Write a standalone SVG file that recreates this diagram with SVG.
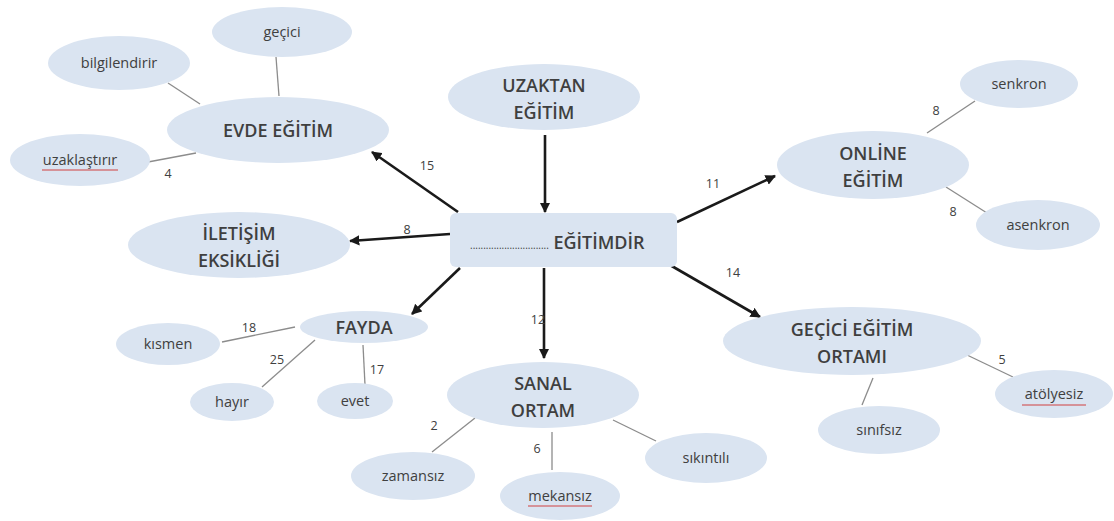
<svg xmlns="http://www.w3.org/2000/svg" width="1114" height="521" viewBox="0 0 1114 521">
<style>
.n{fill:#dae4f1;stroke:none}
.t{font-family:"Open Sans","Liberation Sans",sans-serif;font-size:18px;fill:#3f3f3f;text-anchor:middle;font-weight:600}
.s{font-family:"Open Sans","Liberation Sans",sans-serif;font-size:14.5px;fill:#404040;text-anchor:middle}
.num{font-family:"Open Sans","Liberation Sans",sans-serif;font-size:12.5px;fill:#404040;text-anchor:middle}
.a{stroke:#1a1a1a;stroke-width:2.6;fill:none;marker-end:url(#ah)}
.l{stroke:#8c8c8c;stroke-width:1.3;fill:none}
.u{stroke:#d04040;stroke-width:1;fill:none}
</style>
<defs>
<marker id="ah" viewBox="0 0 10 10" refX="9" refY="5" markerWidth="4" markerHeight="4" orient="auto" markerUnits="strokeWidth">
<path d="M0,0 L10,5 L0,10 z" fill="#1a1a1a"/>
</marker>
</defs>
<rect width="1114" height="521" fill="#ffffff"/>
<g id="connectors">
<line class="a" x1="545" y1="135" x2="545" y2="212"/>
<line class="a" x1="458" y1="212" x2="372" y2="152"/>
<line class="a" x1="450" y1="234" x2="350" y2="241"/>
<line class="a" x1="460" y1="268" x2="412" y2="314"/>
<line class="a" x1="544" y1="268" x2="544" y2="358"/>
<line class="a" x1="670" y1="265" x2="760" y2="317"/>
<line class="a" x1="677" y1="222" x2="775" y2="176"/>
<line class="l" x1="276" y1="57" x2="279" y2="96"/>
<line class="l" x1="168" y1="83" x2="200" y2="104"/>
<line class="l" x1="148" y1="162" x2="196" y2="153"/>
<line class="l" x1="927" y1="133" x2="975" y2="101"/>
<line class="l" x1="946" y1="187" x2="987" y2="213"/>
<line class="l" x1="295" y1="327" x2="222" y2="342"/>
<line class="l" x1="315" y1="340" x2="262" y2="387"/>
<line class="l" x1="363" y1="345" x2="365" y2="385"/>
<line class="l" x1="475" y1="418" x2="432" y2="452"/>
<line class="l" x1="552" y1="432" x2="552" y2="470"/>
<line class="l" x1="613" y1="420" x2="656" y2="441"/>
<line class="l" x1="967" y1="355" x2="1013" y2="377"/>
<line class="l" x1="873" y1="378" x2="862" y2="405"/>
<text class="num" x="427" y="170">15</text>
<text class="num" x="168" y="178">4</text>
<text class="num" x="407" y="234">8</text>
<text class="num" x="713" y="188">11</text>
<text class="num" x="936" y="115">8</text>
<text class="num" x="953" y="216">8</text>
<text class="num" x="733" y="277">14</text>
<text class="num" x="538" y="324">12</text>
<text class="num" x="249" y="332">18</text>
<text class="num" x="277" y="364">25</text>
<text class="num" x="377" y="374">17</text>
<text class="num" x="434" y="430">2</text>
<text class="num" x="537" y="453">6</text>
<text class="num" x="1002" y="364">5</text>
</g>
<g id="center">
<rect x="450" y="213" width="227" height="54" rx="6" fill="#dae4f1"/>
<text class="t" x="470" y="249" style="text-anchor:start"><tspan font-size="10" font-weight="400">..............................</tspan> EĞİTİMDİR</text>
</g>
<g id="uzaktan">
<ellipse class="n" cx="544" cy="97" rx="96" ry="33"/>
<text class="t" x="544" y="92">UZAKTAN</text>
<text class="t" x="544" y="119">EĞİTİM</text>
</g>
<g id="evde">
<ellipse class="n" cx="278" cy="130" rx="111" ry="33"/>
<text class="t" x="278" y="137">EVDE EĞİTİM</text>
</g>
<g id="gecici">
<ellipse class="n" cx="282" cy="32" rx="70" ry="25"/>
<text class="s" x="282" y="37">geçici</text>
</g>
<g id="bilgilendirir">
<ellipse class="n" cx="119" cy="63" rx="71" ry="27"/>
<text class="s" x="119" y="68">bilgilendirir</text>
</g>
<g id="uzaklastirir">
<ellipse class="n" cx="80" cy="160" rx="70" ry="26"/>
<text class="s" x="80" y="165">uzaklaştırır</text>
<line class="u" x1="42" y1="170" x2="118" y2="170"/>
</g>
<g id="iletisim">
<ellipse class="n" cx="239" cy="245" rx="111" ry="33"/>
<text class="t" x="239" y="240">İLETİŞİM</text>
<text class="t" x="239" y="267">EKSİKLİĞİ</text>
</g>
<g id="fayda">
<ellipse class="n" cx="364" cy="327" rx="64" ry="16"/>
<text class="t" x="364" y="334">FAYDA</text>
</g>
<g id="kismen">
<ellipse class="n" cx="168" cy="344" rx="52" ry="21"/>
<text class="s" x="168" y="349">kısmen</text>
</g>
<g id="hayir">
<ellipse class="n" cx="232" cy="402" rx="42" ry="19"/>
<text class="s" x="232" y="407">hayır</text>
</g>
<g id="evet">
<ellipse class="n" cx="355" cy="401" rx="38" ry="18"/>
<text class="s" x="355" y="406">evet</text>
</g>
<g id="sanal">
<ellipse class="n" cx="543" cy="395" rx="96" ry="33"/>
<text class="t" x="543" y="390">SANAL</text>
<text class="t" x="543" y="417">ORTAM</text>
</g>
<g id="zamansiz">
<ellipse class="n" cx="413" cy="476" rx="62" ry="24"/>
<text class="s" x="413" y="481">zamansız</text>
</g>
<g id="mekansiz">
<ellipse class="n" cx="560" cy="496" rx="60" ry="24"/>
<text class="s" x="560" y="501">mekansız</text>
<line class="u" x1="528" y1="506" x2="592" y2="506"/>
</g>
<g id="sikintili">
<ellipse class="n" cx="706" cy="458" rx="61" ry="25"/>
<text class="s" x="706" y="463">sıkıntılı</text>
</g>
<g id="online">
<ellipse class="n" cx="873" cy="165" rx="96" ry="34"/>
<text class="t" x="873" y="160">ONLİNE</text>
<text class="t" x="873" y="187">EĞİTİM</text>
</g>
<g id="senkron">
<ellipse class="n" cx="1019" cy="84" rx="59" ry="24"/>
<text class="s" x="1019" y="89">senkron</text>
</g>
<g id="asenkron">
<ellipse class="n" cx="1038" cy="225" rx="62" ry="25"/>
<text class="s" x="1038" y="230">asenkron</text>
</g>
<g id="gecici-egitim">
<ellipse class="n" cx="852" cy="341" rx="129" ry="34"/>
<text class="t" x="852" y="336">GEÇİCİ EĞİTİM</text>
<text class="t" x="852" y="363">ORTAMI</text>
</g>
<g id="atolyesiz">
<ellipse class="n" cx="1054" cy="394" rx="59" ry="24"/>
<text class="s" x="1054" y="399">atölyesiz</text>
<line class="u" x1="1022" y1="405" x2="1086" y2="405"/>
</g>
<g id="sinifsiz">
<ellipse class="n" cx="879" cy="430" rx="61" ry="24"/>
<text class="s" x="879" y="435">sınıfsız</text>
</g>
</svg>
